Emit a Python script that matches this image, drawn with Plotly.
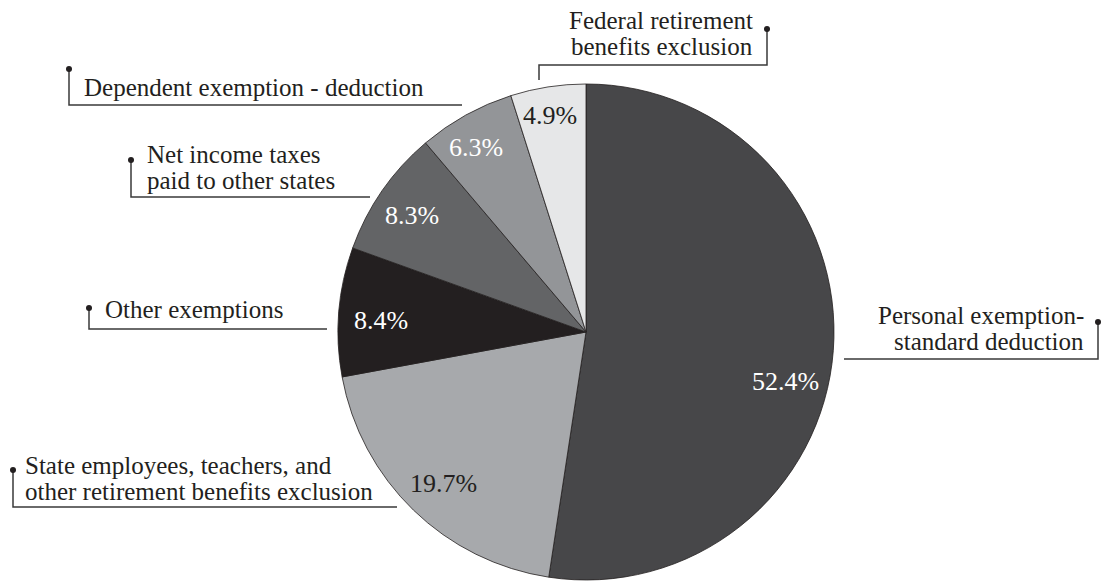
import plotly.graph_objects as go

categories = [
    "Personal exemption-<br>standard deduction",
    "State employees, teachers, and<br>other retirement benefits exclusion",
    "Other exemptions",
    "Net income taxes<br>paid to other states",
    "Dependent exemption - deduction",
    "Federal retirement<br>benefits exclusion",
]
values = [52.4, 19.7, 8.4, 8.3, 6.3, 4.9]
slice_colors = ["#474749", "#a7a9ac", "#231f20", "#636466", "#939598", "#e6e7e8"]
text_colors = ["#ffffff", "#231f20", "#ffffff", "#ffffff", "#ffffff", "#231f20"]

W, H = 1102, 581
cx, cy, R = 586, 332, 248

FONT = "'Liberation Serif', 'Times New Roman', 'DejaVu Serif', serif"
LABEL_SIZE = 25
PCT_SIZE = 26
LINE_GAP = 26

fig = go.Figure()
fig.add_trace(go.Pie(
    labels=categories,
    values=values,
    sort=False,
    direction="clockwise",
    rotation=0,
    marker=dict(colors=slice_colors, line=dict(color="#231f20", width=0.8)),
    textinfo="none",
    domain=dict(x=[(cx - R) / W, (cx + R) / W], y=[(H - cy - R) / H, (H - cy + R) / H]),
    showlegend=False,
    hoverinfo="label+percent",
))

# percent label placement inside the slices (pixel coords)
pct_pos = [(785, 381), (443, 483), (381, 320), (412, 215), (476, 147), (550, 115)]
for v, (px, py), tc in zip(values, pct_pos, text_colors):
    fig.add_annotation(x=px, y=py, xref="x", yref="y", text=f"{v:.1f}%",
                       showarrow=False, xanchor="center", yanchor="middle",
                       font=dict(family=FONT, size=PCT_SIZE, color=tc))

# callout label layout (pixel coords): first-line anchor, alignment, leader path
callouts = [
    dict(x=1086, y=315, xanchor="right",
         path=[(1098, 322), (1098, 359), (844, 359)]),
    dict(x=23, y=465, xanchor="left",
         path=[(13, 470), (13, 507), (397, 507)]),
    dict(x=103, y=309, xanchor="left",
         path=[(89, 308), (89, 329), (327, 329)]),
    dict(x=145, y=154, xanchor="left",
         path=[(131, 160), (131, 197), (370, 197)]),
    dict(x=82, y=87, xanchor="left",
         path=[(69, 69), (69, 105), (462, 105)]),
    dict(x=755, y=20, xanchor="right",
         path=[(767, 29), (767, 65), (539, 65), (539, 80)]),
]

for label, c in zip(categories, callouts):
    for i, line in enumerate(label.split("<br>")):
        fig.add_annotation(
            x=c["x"], y=c["y"] + i * LINE_GAP, xref="x", yref="y", text=line,
            showarrow=False, xanchor=c["xanchor"], yanchor="middle",
            font=dict(family=FONT, size=LABEL_SIZE, color="#231f20"),
        )
    pts = c["path"]
    d = "M " + " L ".join(f"{px},{py}" for px, py in pts)
    fig.add_shape(type="path", path=d, xref="x", yref="y",
                  line=dict(color="#3a3a3a", width=1.5))
    dx, dy = pts[0]
    fig.add_shape(type="circle", xref="x", yref="y",
                  x0=dx - 3, x1=dx + 3, y0=dy - 3, y1=dy + 3,
                  fillcolor="#231f20", line=dict(color="#231f20", width=0))

fig.update_layout(
    width=W, height=H,
    margin=dict(l=0, r=0, t=0, b=0),
    paper_bgcolor="white", plot_bgcolor="rgba(0,0,0,0)",
    xaxis=dict(range=[0, W], visible=False, fixedrange=True),
    yaxis=dict(range=[H, 0], visible=False, fixedrange=True),
    font=dict(family=FONT),
)

fig.write_html("out.html", config={"displayModeBar": False},
               post_script="document.body.style.margin='0';document.body.style.overflow='hidden';")
